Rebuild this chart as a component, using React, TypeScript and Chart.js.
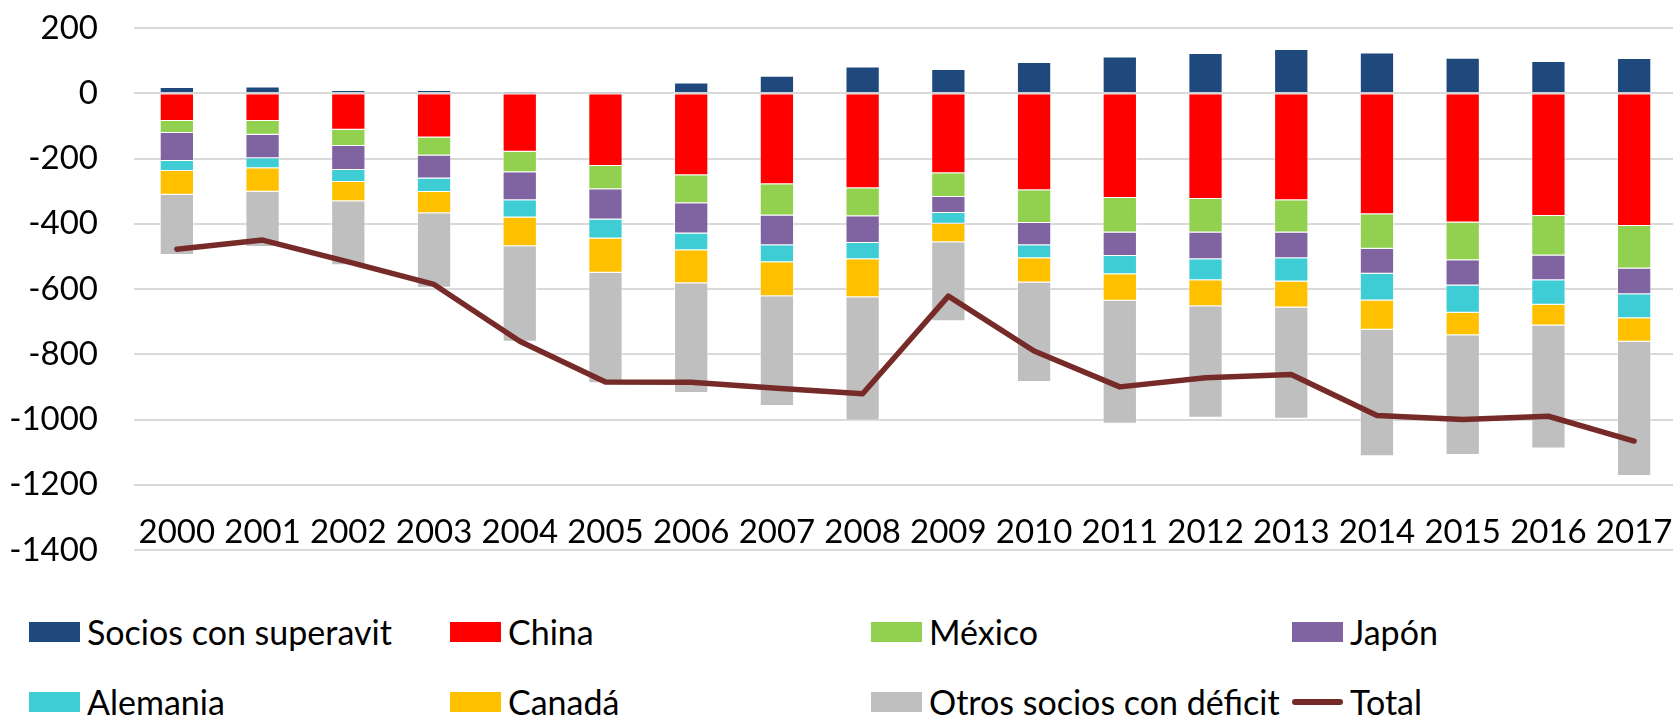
import React, { useEffect, useRef } from "react";
import { Chart, registerables } from "chart.js";

Chart.register(...registerables);

const years = ["2000", "2001", "2002", "2003", "2004", "2005", "2006", "2007", "2008", "2009", "2010", "2011", "2012", "2013", "2014", "2015", "2016", "2017"];

const sociosSuperavit = [19, 21, 10, 10, 1, 4, 33, 54, 82, 74, 96, 113, 123, 136, 125, 109, 99, 108];
const china = [-85, -85, -112, -136, -179, -223, -251, -279, -291, -245, -297, -321, -324, -328, -371, -396, -376, -407];
const mexico = [-37, -42, -50, -55, -63, -71, -86, -96, -86, -73, -101, -106, -103, -99, -106, -116, -121, -130];
const japon = [-86, -72, -73, -70, -86, -93, -93, -91, -82, -49, -68, -72, -82, -79, -76, -77, -76, -79];
const alemania = [-30, -31, -37, -42, -53, -58, -51, -52, -50, -33, -40, -56, -64, -71, -82, -84, -75, -74];
const canada = [-73, -72, -59, -65, -88, -105, -101, -104, -116, -57, -74, -81, -80, -80, -90, -69, -64, -72];
const otrosDeficit = [-185, -169, -196, -228, -293, -339, -337, -337, -378, -242, -305, -377, -342, -341, -388, -367, -377, -411];
const total = [-478, -450, -517, -586, -760, -885, -886, -904, -921, -622, -790, -900, -872, -862, -988, -1000, -990, -1066];

const yMin = -1400;
const yMax = 200;
const yStep = 200;

const barNames = ["Socios con superavit", "China", "México", "Japón", "Alemania", "Canadá", "Otros socios con déficit"];
const lineName = "Total";

const barColors = ["#1F497D", "#FF0000", "#92D050", "#8064A2", "#3FCDD5", "#FFC000", "#BFBFBF"];
const lineColor = "#772B29";

const FONT = "Lato, 'Open Sans', sans-serif";

export default function App() {
  const canvasRef = useRef<HTMLCanvasElement | null>(null);

  useEffect(() => {
    const canvas = canvasRef.current;
    if (!canvas) return;
    const barSeries = [sociosSuperavit, china, mexico, japon, alemania, canada, otrosDeficit];
    const chart = new Chart(canvas, {
      type: "bar",
      data: {
        labels: years,
        datasets: [
          ...barSeries.map((d, i) => ({
            type: "bar" as const,
            label: barNames[i],
            data: d,
            backgroundColor: barColors[i],
            borderColor: "rgba(255,255,255,0.45)",
            borderWidth: 1,
            barPercentage: 0.4,
            categoryPercentage: 1,
            stack: "bars",
            order: 1,
          })),
          {
            type: "line" as const,
            label: lineName,
            data: total,
            borderColor: lineColor,
            backgroundColor: lineColor,
            borderWidth: 5.5,
            pointRadius: 0,
            tension: 0,
            borderCapStyle: "round",
            borderJoinStyle: "round",
            stack: "total",
            order: 0,
          } as any,
        ],
      },
      options: {
        responsive: false,
        animation: false,
        layout: { padding: { top: 28, right: 3, bottom: 50, left: 0 } },
        plugins: {
          legend: { display: false },
          tooltip: { enabled: false },
        },
        scales: {
          x: {
            stacked: true,
            position: { y: -1286 } as any,
            grid: { display: false, drawTicks: false },
            border: { display: false },
            ticks: {
              padding: 0,
              color: "#000",
              font: { family: FONT, size: 33 },
              maxRotation: 0,
              autoSkip: false,
            },
          },
          y: {
            stacked: true,
            min: yMin,
            max: yMax,
            afterFit: (scale: any) => {
              scale.width = 134;
              scale.paddingTop = 0;
              scale.paddingBottom = 0;
            },
            grid: { color: "#D9D9D9", lineWidth: 2, drawTicks: false },
            border: { display: false },
            ticks: {
              stepSize: yStep,
              padding: 36,
              color: "#000",
              font: { family: FONT, size: 33 },
              callback: (v: any) => String(v),
            },
          },
        },
      },
    });
    return () => chart.destroy();
  }, []);

  const legendItems = [
    ...barNames.map((n, i) => ({ name: n, color: barColors[i], line: false })),
    { name: lineName, color: lineColor, line: true },
  ];

  return (
    <div
      style={{
        position: "fixed",
        left: 0,
        top: 0,
        width: 1673,
        height: 717,
        overflow: "hidden",
        background: "#fff",
        fontFamily: FONT,
      }}
    >
      <canvas ref={canvasRef} width={1680} height={600} style={{ display: "block", width: 1680, height: 600 }} />
      <div
        style={{
          position: "absolute",
          left: 29,
          top: 612,
          display: "grid",
          gridTemplateColumns: "421px 421px 421px 421px",
          rowGap: 30,
        }}
      >
        {legendItems.map((it) => (
          <div key={it.name} style={{ display: "flex", alignItems: "center", height: 40, whiteSpace: "nowrap" }}>
            <span
              style={{
                display: "inline-block",
                width: 51,
                height: it.line ? 6 : 20,
                borderRadius: it.line ? 3 : 0,
                background: it.color,
                marginRight: 7,
                flex: "none",
              }}
            />
            <span style={{ fontSize: 34, lineHeight: "40px", color: "#000" }}>{it.name}</span>
          </div>
        ))}
      </div>
    </div>
  );
}
